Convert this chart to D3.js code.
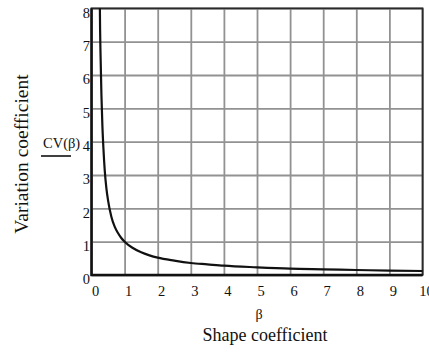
<!DOCTYPE html>
<html>
<head>
<meta charset="utf-8">
<script src="https://cdn.jsdelivr.net/npm/d3@7"></script>
<style>
  body { margin: 0; background: #fff; }
  svg { display: block; font-family: "Liberation Serif", "Times New Roman", serif; }
</style>
</head>
<body>
<div id="chart"></div>
<script>
// values
const beta = [0.253, 0.26, 0.27, 0.28, 0.3, 0.33, 0.36, 0.4, 0.45, 0.5, 0.6, 0.7, 0.8, 0.9, 1, 1.25, 1.5, 1.75, 2, 2.5, 3, 3.5, 4, 5, 6, 7, 8, 9, 10];
const cv = [8.0, 7.35, 6.75, 6.3, 5.4, 4.45, 3.8, 3.14, 2.6, 2.24, 1.75, 1.45, 1.26, 1.11, 1.0, 0.81, 0.68, 0.59, 0.52, 0.43, 0.36, 0.32, 0.28, 0.23, 0.19, 0.17, 0.15, 0.13, 0.12];
const xTicks = [0, 1, 2, 3, 4, 5, 6, 7, 8, 9, 10];
const yTicks = [0, 1, 2, 3, 4, 5, 6, 7, 8];

const W = 429, H = 354;
const PLOT = { left: 91.5, right: 422.5, top: 8.3, bottom: 275 };

const svg = d3.select("#chart").append("svg").attr("width", W).attr("height", H);

const x = d3.scaleLinear().domain([0, 10]).range([PLOT.left, PLOT.right]);
const y = d3.scaleLinear().domain([0, 8]).range([PLOT.bottom, PLOT.top]);

// grid + x labels
const gx = svg.append("g")
  .attr("transform", `translate(0,${PLOT.bottom})`)
  .call(d3.axisBottom(x).tickValues(xTicks).tickSize(-(PLOT.bottom - PLOT.top)).tickFormat(d3.format("d")));
gx.select(".domain").remove();
gx.selectAll("line").attr("stroke", "#929292").attr("stroke-width", 1.8);
gx.selectAll("text")
  .attr("y", 21).attr("dy", null).attr("dx", 3.5)
  .attr("fill", "#111").style("font-size", "14.5px").style("font-family", "Liberation Serif, serif");

const gy = svg.append("g")
  .attr("transform", `translate(${PLOT.left},0)`)
  .call(d3.axisLeft(y).tickValues(yTicks).tickSize(-(PLOT.right - PLOT.left)).tickFormat(d3.format("d")));
gy.select(".domain").remove();
gy.selectAll("line").attr("stroke", "#929292").attr("stroke-width", 1.8);
gy.selectAll("text")
  .attr("x", -1.5).attr("dy", "0.6em")
  .attr("fill", "#111").style("font-size", "14.5px").style("font-family", "Liberation Serif, serif");

// frame
svg.append("rect")
  .attr("x", PLOT.left).attr("y", PLOT.top)
  .attr("width", PLOT.right - PLOT.left).attr("height", PLOT.bottom - PLOT.top)
  .attr("fill", "none").attr("stroke", "#2a2a2a").attr("stroke-width", 1.8);
svg.append("path")
  .attr("d", `M${PLOT.left},${PLOT.top}V${PLOT.bottom}H${PLOT.right}`)
  .attr("fill", "none").attr("stroke", "#111").attr("stroke-width", 2.4);

// curve
const pts = beta.map((b, i) => [b, cv[i]]);
svg.append("path")
  .datum(pts)
  .attr("fill", "none")
  .attr("stroke", "#111")
  .attr("stroke-width", 2.2)
  .attr("d", d3.line().x(d => x(d[0])).y(d => y(d[1])).curve(d3.curveMonotoneX));

// labels
svg.append("text")
  .attr("x", 43).attr("y", 148)
  .style("font-size", "14.5px").attr("fill", "#111")
  .text("CV(β)");
svg.append("line")
  .attr("x1", 41).attr("x2", 71).attr("y1", 156).attr("y2", 156)
  .attr("stroke", "#111").attr("stroke-width", 1.6);

svg.append("text")
  .attr("transform", "translate(28,154) rotate(-90)")
  .attr("text-anchor", "middle")
  .style("font-size", "19.5px").attr("fill", "#111")
  .text("Variation coefficient");

svg.append("text")
  .attr("x", 259).attr("y", 319)
  .attr("text-anchor", "middle")
  .style("font-size", "14px").attr("fill", "#111")
  .text("β");

svg.append("text")
  .attr("x", 265).attr("y", 341)
  .attr("text-anchor", "middle")
  .style("font-size", "18px").attr("fill", "#111")
  .text("Shape coefficient");
</script>
</body>
</html>
